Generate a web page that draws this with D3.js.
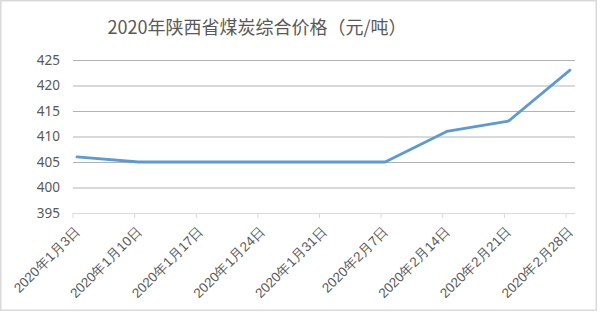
<!DOCTYPE html>
<html>
<head>
<meta charset="utf-8">
<script src="https://cdn.jsdelivr.net/npm/d3@7"></script>
<style>
  body { margin: 0; background: #fff; }
  svg { display: block; font-family: "Noto Sans CJK SC", "Noto Sans", sans-serif; }
</style>
</head>
<body>
<div id="chart"></div>
<script>
// chart data
const dates = ["2020年1月3日", "2020年1月10日", "2020年1月17日", "2020年1月24日", "2020年1月31日",
    "2020年2月7日", "2020年2月14日", "2020年2月21日", "2020年2月28日"];
const prices = [406, 405, 405, 405, 405, 405, 411, 413, 423];
const yTicks = [395, 400, 405, 410, 415, 420, 425];

const canvWidth = 600, canvHeight = 312;
const plot = {left: 73, right: 575, top: 60, bottom: 213};

const svg = d3.select('#chart')
    .append('svg')
    .attr('width', canvWidth)
    .attr('height', canvHeight);

// outer frame
svg.append('rect')
    .attr('x', 0.75).attr('y', 0.75)
    .attr('width', 595.5).attr('height', 309.5)
    .attr('fill', '#fff')
    .attr('stroke', '#d9d9d9')
    .attr('stroke-width', 1.5);

// title
svg.append('text')
    .attr('x', 257)
    .attr('y', 34)
    .attr('text-anchor', 'middle')
    .style('font-size', '18px')
    .style('fill', '#595959')
    .text('2020年陕西省煤炭综合价格（元/吨）');

// scales
const x = d3.scalePoint()
    .domain(dates)
    .range([77, 570]);

const y = d3.scaleLinear()
    .domain([395, 425])
    .range([plot.bottom, plot.top]);

// gridlines + y labels
const yAxis = svg.append('g')
    .attr('class', 'yaxis')
    .attr('transform', `translate(${plot.left},0)`)
    .call(d3.axisLeft(y).tickValues(yTicks).tickSize(-(plot.right - plot.left)).tickPadding(13));

yAxis.select('.domain').remove();
yAxis.selectAll('line')
    .attr('stroke', d => d === 395 ? 'none' : '#b3b3b3');
yAxis.selectAll('text')
    .style('font-size', '13.5px')
    .style('fill', '#595959')
    .style('font-family', '"Noto Sans", sans-serif');

// x axis (ticks sit a bit left of the points)
svg.append('line')
    .attr('x1', plot.left).attr('x2', plot.right)
    .attr('y1', plot.bottom + 0.5).attr('y2', plot.bottom + 0.5)
    .attr('stroke', '#d9d9d9');

const xAxis = svg.append('g')
    .attr('class', 'xaxis')
    .attr('transform', `translate(-4.5,${plot.bottom})`)
    .call(d3.axisBottom(x).tickSize(5));

xAxis.select('.domain').remove();
xAxis.selectAll('line').attr('stroke', '#d9d9d9');
xAxis.selectAll('text')
    .attr('x', 0).attr('y', 0).attr('dy', 0)
    .attr('transform', 'translate(8,19) rotate(-45)')
    .style('text-anchor', 'end')
    .style('font-size', '13.5px')
    .style('fill', '#595959');

// price line
const line = d3.line()
    .x((d, i) => x(dates[i]))
    .y(d => y(d));

svg.append('path')
    .datum(prices)
    .attr('d', line)
    .attr('fill', 'none')
    .attr('stroke', '#5b9bd5')
    .attr('stroke-width', 2.8)
    .attr('stroke-linejoin', 'round')
    .attr('stroke-linecap', 'round');
</script>
</body>
</html>
